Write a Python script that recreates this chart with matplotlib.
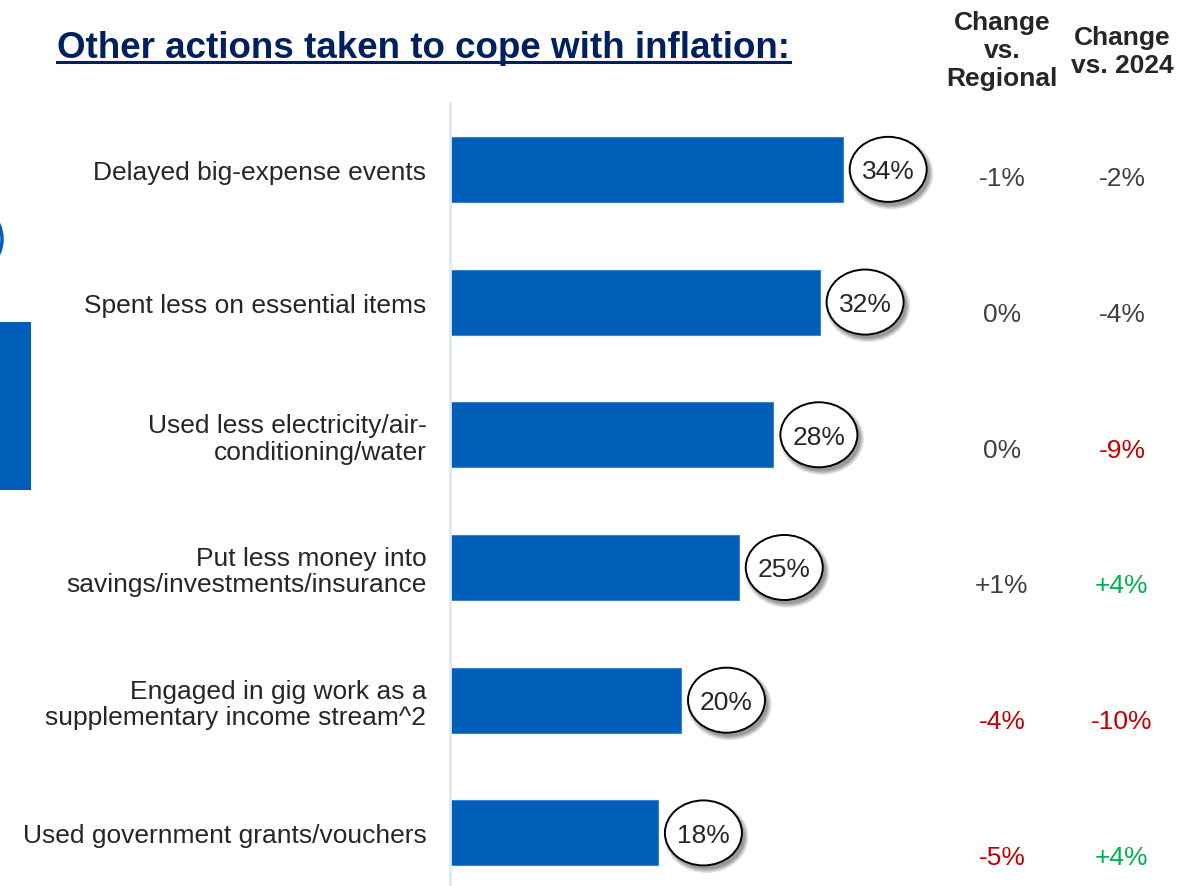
import matplotlib
matplotlib.use("Agg")
import matplotlib.pyplot as plt
from matplotlib.patches import Ellipse, Rectangle
from matplotlib.transforms import blended_transform_factory
from matplotlib.lines import Line2D

# ---------------- data ----------------
title = "Other actions taken to cope with inflation:"
categories = [
    "Delayed big-expense events",
    "Spent less on essential items",
    "Used less electricity/air-\nconditioning/water",
    "Put less money into\nsavings/investments/insurance",
    "Engaged in gig work as a\nsupplementary income stream^2",
    "Used government grants/vouchers",
]
values = [34, 32, 28, 25, 20, 18]
change_regional = ["-1%", "0%", "0%", "+1%", "-4%", "-5%"]
change_2024 = ["-2%", "-4%", "-9%", "+4%", "-10%", "+4%"]
regional_colors = ["neutral", "neutral", "neutral", "neutral", "neg", "neg"]
y2024_colors = ["neutral", "neutral", "neg", "pos", "neg", "pos"]
header_regional = "Change\nvs.\nRegional"
header_2024 = "Change\nvs. 2024"

# ---------------- style ----------------
FONT = "Liberation Sans"
plt.rcParams["font.family"] = [FONT, "DejaVu Sans"]
BAR = "#005EB8"
NAVY = "#002060"
TXT = "#262626"
COLORS = {"neutral": "#404040", "neg": "#C00000", "pos": "#00B050"}

W, H = 1200, 887
fig = plt.figure(figsize=(W / 100, H / 100), dpi=100)

# axes: x from pixel 451, 11.55 px per %
px_per = 11.55
py_per = 132.7
xmax = 40
ax_top = 104
ax = fig.add_axes([450 / W, 0, xmax * px_per / W, (H - ax_top) / H])
ax.set_xlim(0, xmax)
ax.set_ylim(5.4, -0.5)

ypos = list(range(len(categories)))
ax.barh(ypos, values, height=0.49, color=BAR, edgecolor="#3B82D0", linewidth=0.8, zorder=2)

for s in ["top", "right", "bottom"]:
    ax.spines[s].set_visible(False)
ax.spines["left"].set_color("#DCEAF8")
ax.spines["left"].set_linewidth(2)
ax.set_xticks([])
ax.set_yticks(ypos)
ax.set_yticklabels(categories, fontsize=19, color=TXT)
ax.tick_params(axis="y", length=0, pad=17)
for lab in ax.get_yticklabels():
    lab.set_linespacing(1.12)
    lab.set_multialignment("right")

# bubbles
ell_w = 77 / px_per
ell_h = 0.49
off = 45.5 / px_per
sx = 3 / px_per
sy = 4 / py_per
for y, v in zip(ypos, values):
    cx = v + off
    for k, a in enumerate([0.10, 0.10, 0.12, 0.14]):
        g = (3 - k) * 1.2
        ax.add_patch(Ellipse((cx + sx, y + sy), ell_w + g / px_per * 2, ell_h + g / py_per * 2,
                             facecolor="black", edgecolor="none", alpha=a, zorder=3,
                             clip_on=False))
    ax.add_patch(Ellipse((cx, y), ell_w, ell_h, facecolor="white", edgecolor="black",
                         linewidth=1.4, zorder=4, clip_on=False))
    ax.text(cx, y + 2 / py_per, f"{v}%", ha="center", va="center", fontsize=19, color=TXT,
            zorder=5, clip_on=False)

# right-hand columns
tr = blended_transform_factory(fig.transFigure, ax.transData)
for i, (r, c) in enumerate(zip(change_regional, change_2024)):
    yy = 0.068 + 1.022 * i
    fig.text(1002 / W, yy, r, transform=tr, ha="center", va="center", fontsize=19,
             color=COLORS[regional_colors[i]])
    fig.text(1122 / W, yy, c, transform=tr, ha="center", va="center", fontsize=19,
             color=COLORS[y2024_colors[i]])

fig.text(1002 / W, 1 - 51 / H, header_regional, ha="center", va="center", fontsize=19,
         fontweight="bold", color=TXT, linespacing=1.22)
fig.text(1122 / W, 1 - 52 / H, header_2024, ha="center", va="center", fontsize=19,
         fontweight="bold", color=TXT, linespacing=1.22)

# title with underline
t = fig.text(57 / W, 1 - 58 / H, title, ha="left", va="baseline", fontsize=26.5,
             fontweight="bold", color=NAVY)
fig.canvas.draw()
bb = t.get_window_extent()
uy = 1 - 62.5 / H
fig.add_artist(Line2D([bb.x0 / W, bb.x1 / W], [uy, uy], transform=fig.transFigure,
                      color=NAVY, linewidth=2.2))

# left-edge decorations
fig.add_artist(Rectangle((0, 1 - 491 / H), 31 / W, 168 / H, transform=fig.transFigure,
                         facecolor=BAR, edgecolor="none"))
fig.add_artist(Ellipse((-35 / W, 1 - 240 / H), 74 / W, 74 / H, transform=fig.transFigure,
                       facecolor="none", edgecolor=BAR, linewidth=2.5))

fig.savefig("out.png", dpi=100)
